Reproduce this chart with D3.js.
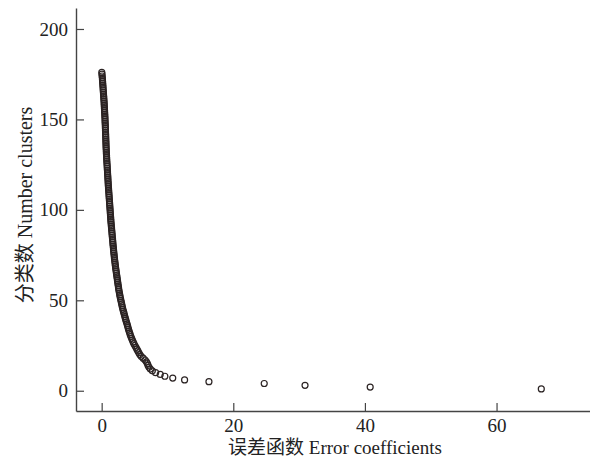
<!DOCTYPE html>
<html>
<head>
<meta charset="utf-8">
<script src="https://cdn.jsdelivr.net/npm/d3@7"></script>
<style>
  body { margin: 0; background: #fff; }
  svg text { font-family: "Liberation Serif", "Times New Roman", "Noto Sans CJK SC", serif; fill: #222; }
</style>
</head>
<body>
<svg id="chart" width="590" height="458"></svg>
<script>
(function () {
      'use strict';

      // number of clusters, one point per value
      var clusters = [
            176, 175, 174, 173, 172, 171, 170, 169, 168, 167,
            166, 165, 164, 163, 162, 161, 160, 159, 158, 157,
            156, 155, 154, 153, 152, 151, 150, 149, 148, 147,
            146, 145, 144, 143, 142, 141, 140, 139, 138, 137,
            136, 135, 134, 133, 132, 131, 130, 129, 128, 127,
            126, 125, 124, 123, 122, 121, 120, 119, 118, 117,
            116, 115, 114, 113, 112, 111, 110, 109, 108, 107,
            106, 105, 104, 103, 102, 101, 100, 99, 98, 97,
            96, 95, 94, 93, 92, 91, 90, 89, 88, 87,
            86, 85, 84, 83, 82, 81, 80, 79, 78, 77,
            76, 75, 74, 73, 72, 71, 70, 69, 68, 67,
            66, 65, 64, 63, 62, 61, 60, 59, 58, 57,
            56, 55, 54, 53, 52, 51, 50, 49, 48, 47,
            46, 45, 44, 43, 42, 41, 40, 39, 38, 37,
            36, 35, 34, 33, 32, 31, 30, 29, 28, 27,
            26, 25, 24, 23, 22, 21, 20, 19, 18, 17,
            16, 15, 14, 13, 12, 11, 10, 9,
            8, 7, 6, 5, 4, 3, 2, 1
      ];

      // error coefficient read for each cluster count above
      var errors = [
            0.02, 0.05, 0.07, 0.1, 0.12, 0.14, 0.16, 0.18, 0.2, 0.22,
            0.24, 0.26, 0.28, 0.3, 0.32, 0.34, 0.36, 0.38, 0.39, 0.41,
            0.42, 0.44, 0.45, 0.47, 0.48, 0.5, 0.51, 0.52, 0.53, 0.55,
            0.56, 0.57, 0.58, 0.59, 0.6, 0.61, 0.62, 0.63, 0.64, 0.65,
            0.66, 0.67, 0.68, 0.7, 0.71, 0.72, 0.74, 0.75, 0.77, 0.78,
            0.8, 0.82, 0.84, 0.85, 0.87, 0.89, 0.9, 0.92, 0.94, 0.95,
            0.97, 0.99, 1.0, 1.02, 1.04, 1.06, 1.08, 1.1, 1.12, 1.14,
            1.16, 1.18, 1.2, 1.22, 1.24, 1.26, 1.28, 1.3, 1.32, 1.34,
            1.36, 1.38, 1.4, 1.42, 1.45, 1.47, 1.5, 1.52, 1.55, 1.57,
            1.6, 1.62, 1.65, 1.67, 1.7, 1.72, 1.75, 1.78, 1.8, 1.83,
            1.86, 1.89, 1.92, 1.95, 1.98, 2.02, 2.05, 2.09, 2.12, 2.16,
            2.2, 2.24, 2.28, 2.32, 2.36, 2.4, 2.44, 2.48, 2.52, 2.56,
            2.6, 2.65, 2.7, 2.75, 2.8, 2.86, 2.92, 2.98, 3.04, 3.1,
            3.16, 3.22, 3.3, 3.38, 3.45, 3.52, 3.6, 3.68, 3.76, 3.85,
            3.92, 4.0, 4.08, 4.16, 4.25, 4.34, 4.44, 4.55, 4.66, 4.78,
            4.9, 5.05, 5.2, 5.35, 5.5, 5.65, 5.8, 6.0, 6.3, 6.6,
            6.8, 6.95, 7.05, 7.2, 7.4, 7.7, 8.2, 8.9,
            9.6, 10.8, 12.6, 16.3, 24.7, 30.9, 40.8, 66.8
      ];

      var xTicks = [0, 20, 40, 60];
      var yTicks = [0, 50, 100, 150, 200];

      var xLabel = '误差函数 Error coefficients';
      var yLabel = '分类数 Number clusters';

      var svg = d3.select('#chart');

      var x = d3.scaleLinear().domain([-3.9, 74.2]).range([76, 590]);
      var y = d3.scaleLinear().domain([-11.2, 211.6]).range([411, 8]);

      var xAxis = svg.append('g')
            .attr('transform', 'translate(0,' + y.range()[0] + ')')
            .call(d3.axisBottom(x).tickValues(xTicks).tickSizeInner(-8).tickSizeOuter(0).tickPadding(8));

      var yAxis = svg.append('g')
            .attr('transform', 'translate(' + x.range()[0] + ',0)')
            .call(d3.axisLeft(y).tickValues(yTicks).tickSizeInner(-8).tickSizeOuter(0).tickPadding(8));

      [xAxis, yAxis].forEach(function(ax) {
            ax.select('.domain').attr('stroke', '#444').attr('stroke-width', 1.4);
            ax.selectAll('.tick line').attr('stroke', '#444').attr('stroke-width', 1.2);
            ax.selectAll('.tick text')
                  .attr('fill', '#222')
                  .style('font-size', '19px')
                  .style('font-family', '"Liberation Serif", "Times New Roman", serif');
      });

      svg.append('g')
            .selectAll('circle')
            .data(clusters)
            .call(function(d) { d.enter().append('circle')
                  .attr('cx', function(c, i) { return x(errors[i]); })
                  .attr('cy', function(c) { return y(c); })
                  .attr('r', 3)
                  .attr('fill', 'none')
                  .attr('stroke', '#2b2323')
                  .attr('stroke-width', 1.2); });

      svg.append('text')
            .attr('x', 335)
            .attr('y', 454)
            .attr('text-anchor', 'middle')
            .style('font-size', '19px')
            .text(xLabel);

      svg.append('text')
            .attr('transform', 'translate(32,205) rotate(-90)')
            .attr('text-anchor', 'middle')
            .style('font-size', '20px')
            .text(yLabel);
})();
</script>
</body>
</html>
